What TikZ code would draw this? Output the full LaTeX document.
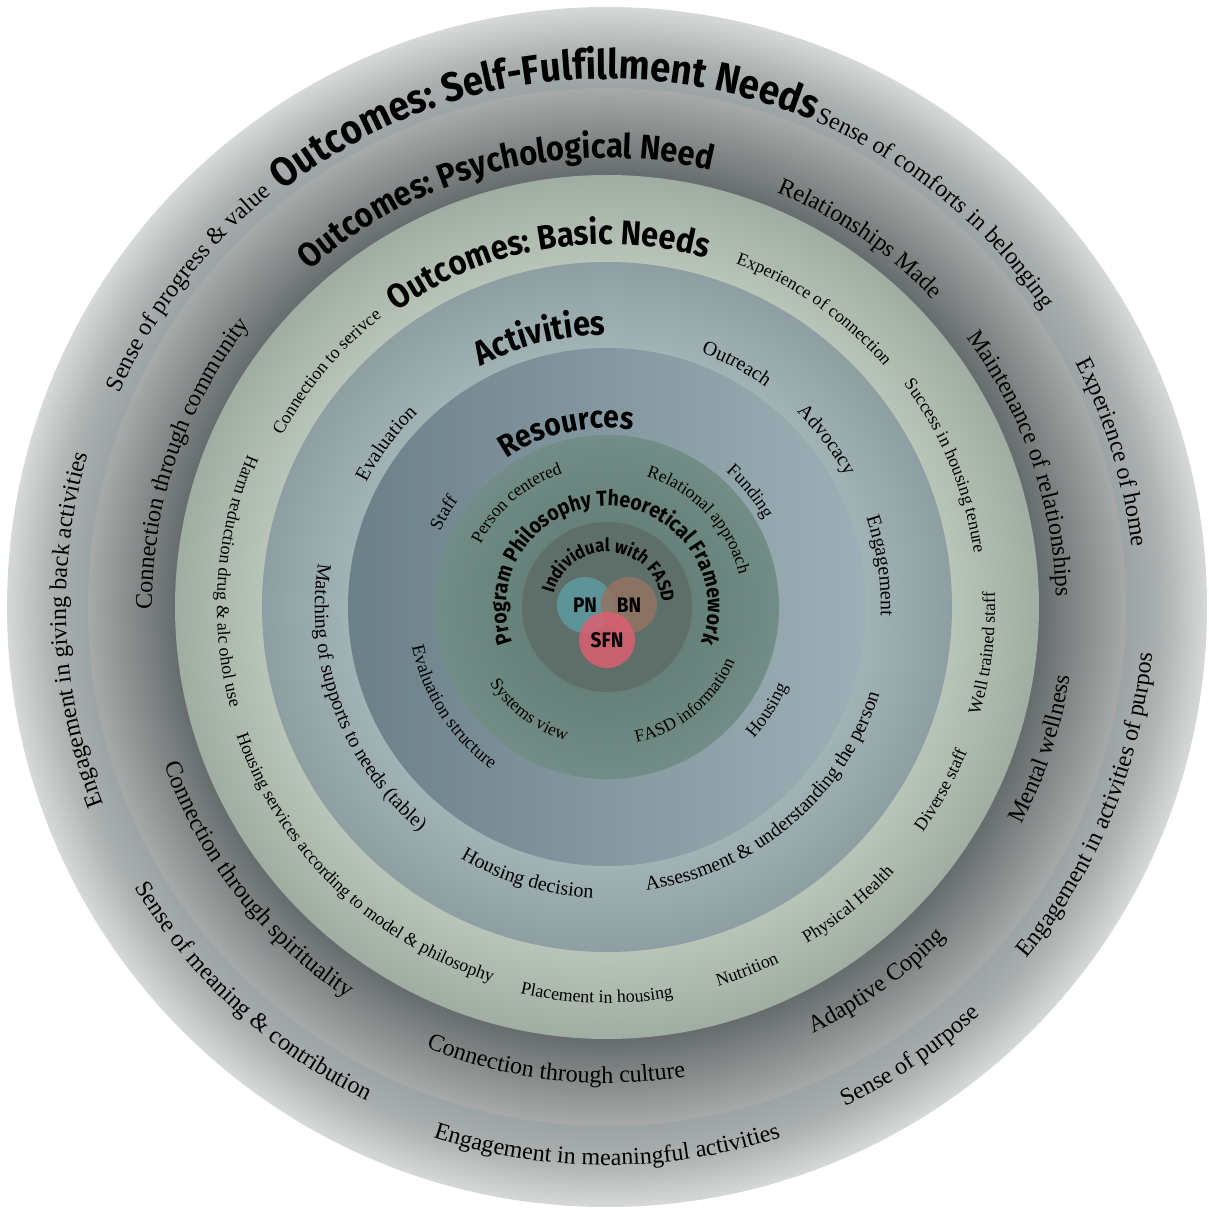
\documentclass[tikz,border=0pt]{standalone}
\usepackage{fontspec}
\setmainfont{Liberation Serif}
\newfontfamily\headfont[FakeStretch=0.9]{Fira Sans}
\usetikzlibrary{decorations.text}

% 颜色
\definecolor{aIn}{HTML}{9CA3A4}
\definecolor{aMid}{HTML}{AAAFAF}
\definecolor{aOut}{HTML}{D6D9D7}
\definecolor{bIn}{HTML}{666C6D}
\definecolor{bOut}{HTML}{A8AAA9}
\definecolor{cIn}{HTML}{B8C4B7}
\definecolor{cOut}{HTML}{A0ADA3}
\definecolor{dIn}{HTML}{A2B3B5}
\definecolor{dOut}{HTML}{8D9FA2}
\definecolor{eL}{HTML}{6C808A}
\definecolor{eR}{HTML}{9DB0B7}
\definecolor{fIn}{HTML}{66817A}
\definecolor{fOut}{HTML}{728D86}
\definecolor{gFill}{HTML}{5E6F6A}
\definecolor{pnc}{HTML}{5E9DA3}
\definecolor{bnc}{HTML}{947462}
\definecolor{sfnc}{HTML}{E05E70}

\pgfdeclareradialshading{ringA}{\pgfpoint{0bp}{0bp}}{color(0bp)=(aIn); color(21.6bp)=(aIn); color(23bp)=(aMid); color(25bp)=(aOut); color(50bp)=(aOut)}
\pgfdeclareradialshading{ringB}{\pgfpoint{0bp}{0bp}}{color(0bp)=(bIn); color(20.8bp)=(bIn); color(25bp)=(bOut); color(50bp)=(bOut)}
\pgfdeclareradialshading{ringC}{\pgfpoint{0bp}{0bp}}{color(0bp)=(cIn); color(20bp)=(cIn); color(25bp)=(cOut); color(50bp)=(cOut)}
\pgfdeclareradialshading{ringD}{\pgfpoint{0bp}{0bp}}{color(0bp)=(dIn); color(18.8bp)=(dIn); color(25bp)=(dOut); color(50bp)=(dOut)}
\pgfdeclareradialshading{ringF}{\pgfpoint{0bp}{0bp}}{color(0bp)=(fIn); color(12.4bp)=(fIn); color(25bp)=(fOut); color(50bp)=(fOut)}

% 字体
\newcommand\hSelf{\headfont\bfseries\fontsize{23.2}{24}\selectfont}
\newcommand\hPsy{\headfont\bfseries\fontsize{19.5}{20}\selectfont}
\newcommand\hAct{\headfont\bfseries\fontsize{19.5}{20}\selectfont}
\newcommand\hRes{\headfont\bfseries\fontsize{17.8}{18}\selectfont}
\newcommand\hProg{\headfont\bfseries\fontsize{12.3}{13}\selectfont}
\newcommand\hInd{\headfont\bfseries\fontsize{10.5}{11}\selectfont}
\newcommand\sAB{\fontsize{13.7}{14}\selectfont}
\newcommand\sC{\fontsize{10.2}{11}\selectfont}
\newcommand\sD{\fontsize{11.4}{12}\selectfont}
\newcommand\sE{\fontsize{10.5}{11}\selectfont}
\newcommand\sF{\fontsize{10}{11}\selectfont}

% 沿圆弧的文字：角度, 半径, 字体, 文本
\newcommand\cwtext[4]{%
  \path[decorate,decoration={text along path,text align=center,text={|#3|#4}}]
    ({#1+170}:#2) arc[start angle={#1+170},end angle={#1-170},radius=#2];}
\newcommand\ccwtext[4]{%
  \path[decorate,decoration={text along path,text align=center,text={|#3|#4}}]
    ({#1-170}:#2) arc[start angle={#1-170},end angle={#1+170},radius=#2];}

\begin{document}
\begin{tikzpicture}[x=0.02cm, y=0.02cm,
    venn/.style={circle, minimum size=1.12cm, inner sep=0pt, fill opacity=0.82,
      text opacity=1, font=\headfont\bfseries\fontsize{12}{12}\selectfont}]
    \useasboundingbox (-607,-603) rectangle (602,607);

    % 圆环
    \shade[shading=ringA] (0,0) circle (600);
    \shade[shading=ringB] (0,0) circle (519);
    \shade[shading=ringC] (0,0) circle (432);
    \shade[shading=ringD] (0,0) circle (345);
    \shade[left color=eL, right color=eR] (0,0) circle (259);
    \shade[shading=ringF] (0,0) circle (172);
    \fill[gFill] (0,0) circle (85);

    % 自我实现需求
    \cwtext{97.5}{528}{\hSelf}{Outcomes: Self-Fulfillment Needs}
    \cwtext{50.5}{528}{\sAB}{Sense of comforts in belonging}
    \cwtext{17}{528}{\sAB}{Experience of home}
    \ccwtext{-22.4}{547}{\sAB}{Engagement in activities of purpos}
    \ccwtext{-56}{553}{\sAB}{Sense of purpose}
    \ccwtext{-90}{558}{\sAB}{Engagement in meaningful activities}
    \ccwtext{-132.6}{549}{\sAB}{Sense of meaning {\&} contribution}
    \cwtext{182.5}{541}{\sAB}{Engagement in giving back activities}
    \cwtext{142.7}{532}{\sAB}{Sense of progress {\&} value}

    % 心理需求
    \cwtext{104}{449}{\hPsy}{Outcomes: Psychological Need}
    \cwtext{55.5}{448}{\sAB}{Relationships Made}
    \cwtext{19.1}{449}{\sAB}{Maintenance of relationships}
    \ccwtext{-18.1}{468}{\sAB}{Mental wellness}
    \ccwtext{-54.2}{473}{\sAB}{Adaptive Coping}
    \ccwtext{-96.4}{476}{\sAB}{Connection through culture}
    \ccwtext{-142}{470}{\sAB}{Connection through spirituality}
    \cwtext{161}{455}{\sAB}{Connection through community}

    % 基本需求
    \cwtext{99.7}{363}{\hPsy}{Outcomes: Basic Needs}
    \cwtext{55.2}{367}{\sC}{Experience of connection}
    \cwtext{22.6}{371}{\sC}{Success in housing tenure}
    \ccwtext{-7}{388}{\sC}{Well trained staff}
    \ccwtext{-28.7}{388}{\sC}{Diverse staff}
    \ccwtext{-51}{391}{\sC}{Physical Health}
    \ccwtext{-68.9}{395}{\sC}{Nutrition}
    \ccwtext{-91.5}{396}{\sC}{Placement in housing}
    \ccwtext{-134}{392}{\sC}{Housing services according to model {\&} philosophy}
    \ccwtext{176}{390}{\sC}{Harm reduction drug {\&} alc ohol use}
    \cwtext{140}{367}{\sC}{Connection to serivce}

    % 活动
    \cwtext{104}{272}{\hAct}{Activities}
    \cwtext{61.9}{271}{\sD}{Outreach}
    \cwtext{37.3}{272}{\sD}{Advocacy}
    \cwtext{8.5}{274}{\sD}{Engagement}
    \ccwtext{-49.9}{286}{\sD}{Assessment {\&} understanding the person}
    \ccwtext{-106.5}{291}{\sD}{Housing decision}
    \ccwtext{200.8}{292}{\sD}{Matching of supports to needs (table)}
    \cwtext{143.5}{271}{\sD}{Evaluation}

    % 资源
    \cwtext{103}{179}{\hRes}{Resources}
    \cwtext{38.9}{180}{\sE}{Funding}
    \ccwtext{-32.8}{197}{\sE}{Housing}
    \ccwtext{213}{199}{\sE}{Evaluation structure}
    \cwtext{150}{183}{\sE}{Staff}

    % 项目理念
    \cwtext{90}{101}{\hProg}{Program Philosophy Theoretical Framework}
    \cwtext{131}{141}{\sF}{Person centered}
    \cwtext{43.5}{136}{\sF}{Relational approach}
    \ccwtext{-50.5}{139}{\sF}{FASD information}
    \ccwtext{233}{140}{\sF}{Systems view}

    % 个体
    \cwtext{85.3}{55}{\hInd}{Individual with FASD}
    \node[venn, fill=pnc] (pn) at (-22,2) {PN};
    \node[venn, fill=bnc] (bn) at (22,2) {BN};
    \node[venn, fill=sfnc] (sfn) at (0,-33) {SFN};
\end{tikzpicture}
\end{document}
